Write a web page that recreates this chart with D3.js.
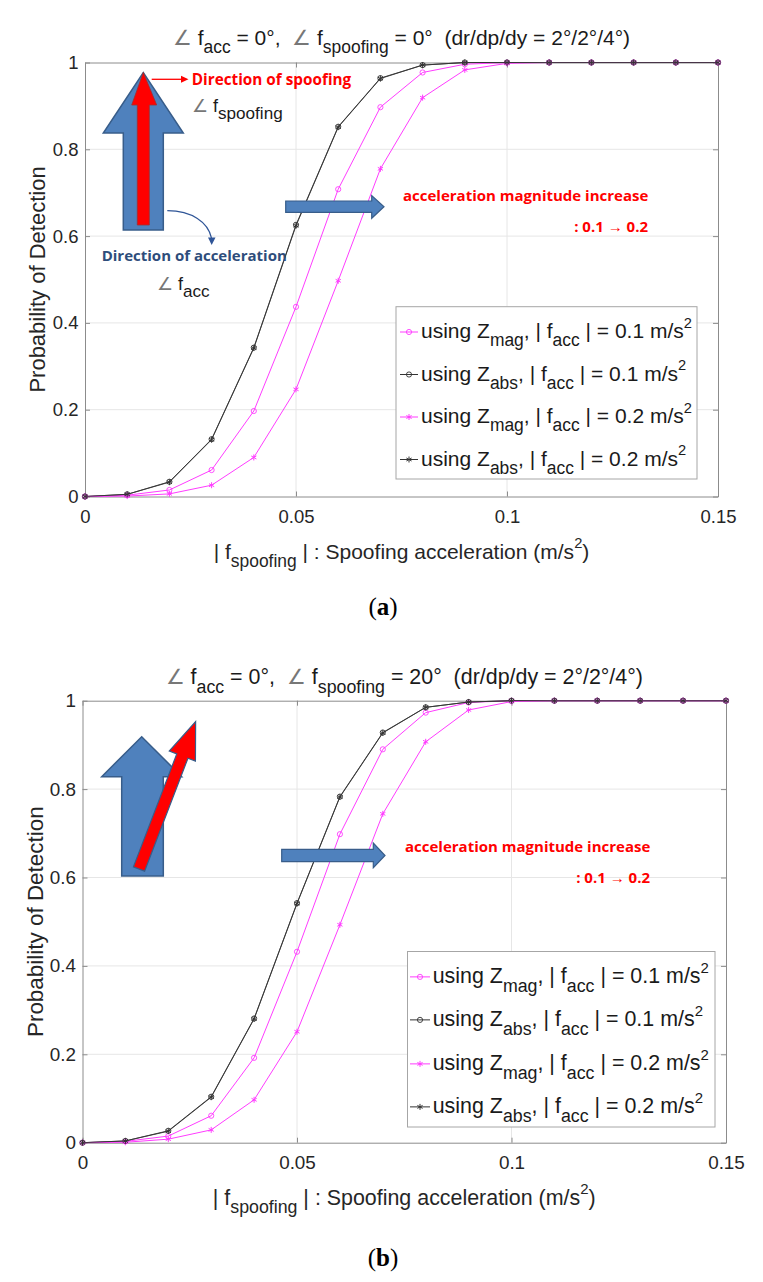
<!DOCTYPE html>
<html><head><meta charset="utf-8">
<script src="https://cdn.jsdelivr.net/npm/d3@7"></script>
<style>body{margin:0;background:#fff}svg{display:block}</style>
</head><body>
<svg id="c" width="763" height="1282"></svg>
<script>
// ---------------- data ----------------
const xValues = [0,0.01,0.02,0.03,0.04,0.05,0.06,0.07,0.08,0.09,0.10,0.11,0.12,0.13,0.14,0.15];
const xTicks = [0,0.05,0.1,0.15];
const yTicks = [0,0.2,0.4,0.6,0.8,1];
const xTickLabels = ["0","0.05","0.1","0.15"];
const yTickLabels = ["0","0.2","0.4","0.6","0.8","1"];

// panel (a): angle f_spoofing = 0 deg
const aMag01 = [0,0.003,0.015,0.061,0.197,0.437,0.708,0.897,0.977,0.996,1,1,1,1,1,1];
const aAbs01 = [0,0.005,0.034,0.132,0.343,0.626,0.852,0.964,0.994,1,1,1,1,1,1,1];
const aMag02 = [0,0.001,0.006,0.026,0.090,0.247,0.497,0.755,0.919,0.983,0.998,1,1,1,1,1];
const aAbs02 = [0,0.005,0.033,0.131,0.342,0.624,0.851,0.963,0.994,1,1,1,1,1,1,1];

// panel (b): angle f_spoofing = 20 deg
const bMag01 = [0,0.003,0.015,0.061,0.192,0.432,0.698,0.890,0.973,0.996,1,1,1,1,1,1];
const bAbs01 = [0,0.004,0.027,0.104,0.281,0.542,0.783,0.928,0.985,0.997,1,1,1,1,1,1];
const bMag02 = [0,0.001,0.008,0.029,0.097,0.251,0.493,0.744,0.907,0.979,0.998,1,1,1,1,1];
const bAbs02 = [0,0.004,0.026,0.103,0.280,0.541,0.782,0.927,0.985,0.997,1,1,1,1,1,1];

const seriesNames = ["mag","abs","mag","abs"];
const seriesAcc = ["0.1","0.1","0.2","0.2"];
const seriesColors = ["#ff3cff","#333333","#ff3cff","#333333"];
const seriesMarkers = ["o","o","*","*"];

// ---------------- drawing ----------------
const FONT = "'Liberation Sans', Arial, Helvetica, sans-serif";
const ANN = "'Open Sans', 'Noto Sans', sans-serif";
const svg = d3.select("#c");
svg.append("rect").attr("width",763).attr("height",1282).attr("fill","#fff");

function rich(g, x, y, parts, o) {
  const t = g.append("text").attr("x", x).attr("y", y)
    .attr("font-family", o.family || FONT).attr("font-size", o.size)
    .attr("fill", o.fill || "#262626").attr("text-anchor", o.anchor || "start")
    .style("white-space", "pre");
  if (o.weight) t.attr("font-weight", o.weight);
  if (o.transform) t.attr("transform", o.transform);
  let cur = 0;
  parts.forEach(p => {
    const s = typeof p === "string" ? {t: p} : p;
    let shift = 0, fs = o.size;
    if (s.sub) { shift = o.size * 0.40; fs = o.size * (o.subScale || 0.83); }
    if (s.sup) { shift = -o.size * 0.48; fs = o.size * 0.7; }
    const ts = t.append("tspan").text(s.t).attr("font-size", fs).attr("dy", shift - cur);
    if (s.fill) ts.attr("fill", s.fill);
    if (s.weight) ts.attr("font-weight", s.weight);
    cur = shift;
  });
  return t;
}

function asterisk(r) {
  const c = Math.cos(Math.PI/6)*r, s = Math.sin(Math.PI/6)*r;
  return `M0,${-r}L0,${r}M${-c},${-s}L${c},${s}M${-c},${s}L${c},${-s}`;
}

function drawMarker(g, type, color, cx, cy) {
  if (type === "o") {
    g.append("circle").attr("cx", cx).attr("cy", cy).attr("r", 2.6)
      .attr("fill", "none").attr("stroke", color).attr("stroke-width", 0.9);
  } else {
    g.append("path").attr("d", asterisk(3)).attr("transform", `translate(${cx},${cy})`)
      .attr("fill", "none").attr("stroke", color).attr("stroke-width", 1);
  }
}

function drawPanel(P) {
  const g = svg.append("g");
  const x = d3.scaleLinear().domain([0, 0.15]).range([P.x0, P.x1]);
  const y = d3.scaleLinear().domain([0, 1]).range([P.yBot, P.yTop]);
  const k = P.k;

  // grid
  g.append("g").selectAll("line").data(xTicks.slice(1, -1)).join("line")
    .attr("x1", d => x(d)).attr("x2", d => x(d)).attr("y1", P.yTop).attr("y2", P.yBot)
    .attr("stroke", "#e6e6e6").attr("stroke-width", 1);
  g.append("g").selectAll("line").data(yTicks.slice(1, -1)).join("line")
    .attr("y1", d => y(d)).attr("y2", d => y(d)).attr("x1", P.x0).attr("x2", P.x1)
    .attr("stroke", "#e6e6e6").attr("stroke-width", 1);

  // axes
  const fx = d => xTickLabels[xTicks.indexOf(d)];
  const fy = d => yTickLabels[yTicks.indexOf(d)];
  const axB = g.append("g").attr("transform", `translate(0,${P.yBot})`)
    .call(d3.axisBottom(x).tickValues(xTicks).tickSizeInner(-5).tickSizeOuter(0).tickPadding(13).tickFormat(fx));
  const axL = g.append("g").attr("transform", `translate(${P.x0},0)`)
    .call(d3.axisLeft(y).tickValues(yTicks).tickSizeInner(-5).tickSizeOuter(0).tickPadding(6.5).tickFormat(fy));
  const axT = g.append("g").attr("transform", `translate(0,${P.yTop})`)
    .call(d3.axisTop(x).tickValues(xTicks).tickSizeInner(-5).tickSizeOuter(0).tickFormat(""));
  const axR = g.append("g").attr("transform", `translate(${P.x1},0)`)
    .call(d3.axisRight(y).tickValues(yTicks).tickSizeInner(-5).tickSizeOuter(0).tickFormat(""));
  [axB, axL, axT, axR].forEach(a => {
    a.select(".domain").attr("stroke", "#8c8c8c").attr("stroke-width", 1);
    a.selectAll(".tick line").attr("stroke", "#8c8c8c");
    a.selectAll(".tick text").attr("font-family", FONT).attr("font-size", 18.5 * k).attr("fill", "#262626");
  });

  // series
  const line = d3.line().x((d, i) => x(xValues[i])).y(d => y(d));
  P.series.forEach((s, si) => {
    const col = seriesColors[si];
    g.append("path").datum(s).attr("d", line).attr("fill", "none")
      .attr("stroke", col).attr("stroke-width", si % 2 ? 0.9 : 1);
    const mg = g.append("g");
    s.forEach((v, i) => drawMarker(mg, seriesMarkers[si], col, x(xValues[i]), y(v)));
  });

  // title
  const ang = {t: "\u2220", fill: "#777"};
  rich(g, (P.x0 + P.x1) / 2, P.titleY, [ang, " f", {t: "acc", sub: 1}, " = 0\u00b0,  ", ang, " f", {t: "spoofing", sub: 1},
    ` = ${P.spoofAngle}\u00b0  (dr/dp/dy = 2\u00b0/2\u00b0/4\u00b0)`], {size: 21 * k, anchor: "middle", fill: "#1a1a1a"});

  // x label
  rich(g, (P.x0 + P.x1) / 2, P.yBot + 62, ["| f", {t: "spoofing", sub: 1}, " | : Spoofing acceleration (m/s", {t: "2", sup: 1}, ")"],
    {size: 21 * k, anchor: "middle", fill: "#262626"});

  // y label
  rich(g, 0, 0, ["Probability of Detection"], {size: 22 * k, anchor: "middle", fill: "#262626",
    transform: `translate(${P.x0 - 40},${(P.yTop + P.yBot) / 2}) rotate(-90)`});

  // caption
  rich(g, 383, P.captionY, ["(", {t: P.id, weight: "bold"}, ")"], {size: 25, anchor: "middle", fill: "#000", family: "'Liberation Serif', 'DejaVu Serif', serif"});

  // legend
  const L = P.legend;
  g.append("rect").attr("x", L.x).attr("y", L.y).attr("width", L.w).attr("height", L.h)
    .attr("fill", "#fff").attr("stroke", "#a6a6a6").attr("stroke-width", 1);
  L.rows.forEach((by, i) => {
    const cy = by - 6 * k;
    g.append("line").attr("x1", L.lx0).attr("x2", L.lx1).attr("y1", cy).attr("y2", cy)
      .attr("stroke", seriesColors[i]).attr("stroke-width", 1);
    drawMarker(g, seriesMarkers[i], seriesColors[i], (L.lx0 + L.lx1) / 2, cy);
    rich(g, L.tx, by, ["using Z", {t: seriesNames[i], sub: 1}, ", | f", {t: "acc", sub: 1}, ` | = ${seriesAcc[i]} m/s`, {t: "2", sup: 1}],
      {size: 21 * k, fill: "#1a1a1a"});
  });
  return {g, x, y};
}

const blueFill = "#4f81bd", blueStroke = "#385d8a";

function poly(g, pts, fill, stroke, sw) {
  return g.append("polygon").attr("points", pts.map(p => p.join(",")).join(" "))
    .attr("fill", fill).attr("stroke", stroke).attr("stroke-width", sw);
}
function annText(g, x, y, str, color, size, anchor) {
  return g.append("text").attr("x", x).attr("y", y).text(str)
    .attr("font-family", ANN).attr("font-weight", 700).attr("font-size", size)
    .attr("fill", color).attr("text-anchor", anchor || "start");
}

// ---- panel a ----
const PA = drawPanel({id: "a", x0: 85, x1: 718, yTop: 62.5, yBot: 496.5, k: 1, spoofAngle: 0,
  series: [aMag01, aAbs01, aMag02, aAbs02], titleY: 45, captionY: 615,
  legend: {x: 396, y: 306.7, w: 301, h: 172.3, rows: [338, 380.5, 423, 465.5], lx0: 400, lx1: 418, tx: 421}});
{
  const g = svg.append("g");
  poly(g, [[123.3,230],[123.3,133],[103.3,133],[143.3,72.5],[183.3,133],[163.3,133],[163.3,230]], blueFill, blueStroke, 1.5);
  poly(g, [[137.3,225],[137.3,105],[131.7,105],[143.3,72.5],[156.7,105],[149.3,105],[149.3,225]], "#ff0000", "#a03030", 0.8);
  g.append("line").attr("x1", 151.7).attr("x2", 182).attr("y1", 79.3).attr("y2", 79.3).attr("stroke", "#ff0000").attr("stroke-width", 1.3);
  poly(g, [[181,75.8],[188.5,79.3],[181,82.8]], "#ff0000", "none", 0);
  annText(g, 191.7, 85, "Direction of spoofing", "#ff0000", 15.3);
  rich(g, 192, 111.7, [{t: "\u2220 ", fill: "#777"}, "f", {t: "spoofing", sub: 1}], {size: 18, fill: "#1a1a1a", subScale: 0.95});
  g.append("path").attr("d", "M167.3,210.7 C192,211 208,222 211.5,238").attr("fill", "none").attr("stroke", "#2f5597").attr("stroke-width", 1.2);
  poly(g, [[208,237.5],[215.5,237.5],[211.7,245]], "#2f5597", "none", 0);
  annText(g, 101.7, 260.7, "Direction of acceleration", "#2e4d7b", 15);
  rich(g, 157, 290, [{t: "\u2220 ", fill: "#777"}, "f", {t: "acc", sub: 1}], {size: 18, fill: "#1a1a1a", subScale: 0.95});
  poly(g, [[285.7,201],[371.7,201],[371.7,195.5],[384,206.7],[371.7,218.3],[371.7,212.3],[285.7,212.3]], blueFill, blueStroke, 1.2);
  annText(g, 403, 201, "acceleration magnitude increase", "#ff0000", 15);
  annText(g, 648, 231.7, ": 0.1 \u2192 0.2", "#ff0000", 15, "end");
}

// ---- panel b ----
const PB = drawPanel({id: "b", x0: 82.5, x1: 726, yTop: 700.7, yBot: 1142.7, k: 1.02, spoofAngle: 20,
  series: [bMag01, bAbs01, bMag02, bAbs02], titleY: 684, captionY: 1266,
  legend: {x: 407.5, y: 951.5, w: 307.5, h: 175.5, rows: [983, 1026, 1070, 1113], lx0: 410, lx1: 430, tx: 432.7}});
{
  const g = svg.append("g");
  poly(g, [[121.7,876],[121.7,776.7],[101.7,776.7],[141.7,736.7],[181.7,776.7],[163.3,776.7],[163.3,876]], blueFill, blueStroke, 1.5);
  g.append("path").attr("d", "M-6,0L-6,-121L-14,-121L0,-158L14,-121L6,-121L6,0Z")
    .attr("transform", "translate(139,869) rotate(21)")
    .attr("fill", "#ff0000").attr("stroke", blueStroke).attr("stroke-width", 1.2);
  poly(g, [[281.7,849.3],[373.3,849.3],[373.3,843],[385,855.5],[373.3,867.7],[373.3,861.7],[281.7,861.7]], blueFill, blueStroke, 1.2);
  annText(g, 405, 852, "acceleration magnitude increase", "#ff0000", 15);
  annText(g, 650, 883, ": 0.1 \u2192 0.2", "#ff0000", 15, "end");
}
</script>
</body></html>
